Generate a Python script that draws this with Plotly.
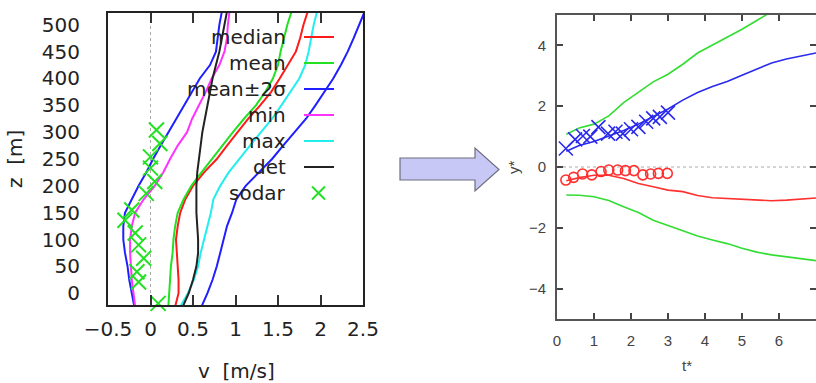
import plotly.graph_objects as go

# ---------------- left panel data: wind profiles ----------------
z_levels = [-25, 0, 25, 50, 75, 100, 125, 150, 175, 200, 225, 250, 275, 300,
            325, 350, 375, 400, 425, 450, 475, 500, 525]
v_median = [0.29, 0.33, 0.33, 0.32, 0.31, 0.30, 0.32, 0.35, 0.41, 0.50, 0.63, 0.78,
            0.90, 1.02, 1.15, 1.29, 1.42, 1.52, 1.61, 1.71, 1.76, 1.80, 1.85]
v_mean = [0.21, 0.22, 0.23, 0.24, 0.26, 0.27, 0.29, 0.32, 0.39, 0.48, 0.60, 0.72,
          0.85, 0.97, 1.10, 1.24, 1.35, 1.44, 1.50, 1.53, 1.57, 1.61, 1.66]
v_lo2s = [-0.19, -0.22, -0.25, -0.27, -0.30, -0.32, -0.32, -0.30, -0.22, -0.14, -0.05, 0.03,
          0.12, 0.21, 0.30, 0.39, 0.49, 0.58, 0.70, 0.77, 0.79, 0.81, 0.84]
v_hi2s = [0.60, 0.67, 0.73, 0.78, 0.82, 0.86, 0.90, 0.96, 1.01, 1.12, 1.28, 1.43,
          1.56, 1.69, 1.83, 1.94, 2.05, 2.15, 2.24, 2.32, 2.39, 2.45, 2.52]
v_min = [-0.18, -0.20, -0.22, -0.23, -0.24, -0.24, -0.22, -0.18, -0.08, 0.05, 0.15, 0.23,
         0.32, 0.43, 0.49, 0.57, 0.65, 0.72, 0.81, 0.87, 0.90, 0.91, 0.93]
v_max = [0.35, 0.44, 0.51, 0.56, 0.59, 0.63, 0.67, 0.71, 0.74, 0.82, 0.92, 1.04,
         1.17, 1.30, 1.43, 1.54, 1.65, 1.75, 1.82, 1.86, 1.89, 1.92, 1.96]
v_det = [0.38, 0.45, 0.50, 0.54, 0.56, 0.56, 0.55, 0.54, 0.54, 0.54, 0.55, 0.57,
         0.59, 0.61, 0.64, 0.67, 0.70, 0.73, 0.77, 0.81, 0.84, 0.87, 0.90]
sodar_z = [-19, 21, 40, 65, 90, 112, 136, 155, 186, 208, 233, 254, 279, 304]
sodar_v = [0.09, -0.14, -0.16, -0.08, -0.14, -0.18, -0.30, -0.22, -0.05, 0.05, 0.00, 0.00, 0.11, 0.07]

left_xticks = [-0.5, 0, 0.5, 1, 1.5, 2, 2.5]
left_xticklabels = ["\u22120.5", "0", "0.5", "1", "1.5", "2", "2.5"]
left_yticks = [0, 50, 100, 150, 200, 250, 300, 350, 400, 450, 500]

legend_names = ["median", "mean", "mean\u00b12\u03c3", "min", "max", "det", "sodar"]

# ---------------- right panel data ----------------
t_grid = [0.25, 0.6, 1.0, 1.4, 1.8, 2.2, 2.6, 3.0, 3.4, 3.8, 4.2, 4.6, 5.0, 5.4, 5.8, 6.2, 6.6, 7.0]
y_green_up = [1.08, 1.28, 1.41, 1.68, 2.12, 2.45, 2.80, 3.05, 3.38, 3.75, 4.01, 4.25, 4.53, 4.82, 5.12, 5.40, 5.65, 5.90]
y_blue = [0.52, 0.71, 0.84, 1.01, 1.20, 1.41, 1.67, 1.91, 2.20, 2.45, 2.65, 2.81, 3.02, 3.23, 3.42, 3.55, 3.64, 3.75]
y_red = [-0.45, -0.35, -0.27, -0.27, -0.38, -0.54, -0.65, -0.76, -0.81, -0.94, -1.01, -1.04, -1.07, -1.09, -1.11, -1.09, -1.05, -1.02]
y_green_lo = [-0.92, -0.93, -0.98, -1.10, -1.31, -1.50, -1.75, -1.92, -2.08, -2.27, -2.40, -2.52, -2.67, -2.80, -2.89, -2.96, -3.01, -3.08]

t_cross = [0.24, 0.49, 0.70, 0.90, 1.12, 1.38, 1.58, 1.78, 2.00, 2.20, 2.41, 2.60, 2.78, 3.00]
y_cross = [0.61, 0.91, 1.02, 1.00, 1.31, 1.10, 1.16, 1.10, 1.24, 1.32, 1.49, 1.60, 1.65, 1.79]
t_circ = [0.24, 0.45, 0.69, 0.94, 1.19, 1.40, 1.64, 1.85, 2.08, 2.32, 2.53, 2.74, 2.98]
y_circ = [-0.43, -0.34, -0.23, -0.26, -0.15, -0.10, -0.10, -0.12, -0.12, -0.26, -0.23, -0.21, -0.21]

right_xticks = [0, 1, 2, 3, 4, 5, 6, 7]
right_yticks = [-4, -2, 0, 2, 4]

# ---------------- styling ----------------
W, H = 816, 383
RED, GREEN, BLUE = "#ff1a1a", "#22e022", "#1f1fff"
MAG, CYAN, BLACK = "#ff33ff", "#22eeee", "#222222"
FONT_L = "DejaVu Sans"
FONT_R = "Liberation Sans"

def px(x):
    return x / W

def py(y):
    return 1 - y / H

fig = go.Figure()

left_series = [
    ("median", v_median, RED),
    ("mean", v_mean, GREEN),
    ("mean-2s", v_lo2s, BLUE),
    ("mean+2s", v_hi2s, BLUE),
    ("min", v_min, MAG),
    ("max", v_max, CYAN),
    ("det", v_det, BLACK),
]
for name, vals, col in left_series:
    fig.add_trace(go.Scatter(x=vals, y=z_levels, mode="lines", name=name,
                             line=dict(color=col, width=2), xaxis="x", yaxis="y",
                             showlegend=False, hoverinfo="skip"))
fig.add_trace(go.Scatter(x=sodar_v, y=sodar_z, mode="markers", name="sodar",
                         marker=dict(symbol="x-thin-open", size=15, color=GREEN,
                                     line=dict(color=GREEN, width=2)),
                         xaxis="x", yaxis="y", showlegend=False, cliponaxis=False))

# right panel
for vals, col in [(y_green_up, "#33dd33"), (y_green_lo, "#33dd33"), (y_blue, "#2a2aee"), (y_red, "#ff3030")]:
    fig.add_trace(go.Scatter(x=t_grid, y=vals, mode="lines", line=dict(color=col, width=1.6),
                             xaxis="x2", yaxis="y2", showlegend=False))
fig.add_trace(go.Scatter(x=t_cross, y=y_cross, mode="markers",
                         marker=dict(symbol="x-thin-open", size=14, color="#2a2aee",
                                     line=dict(color="#2a2aee", width=1.6)),
                         xaxis="x2", yaxis="y2", showlegend=False))
fig.add_trace(go.Scatter(x=t_circ, y=y_circ, mode="markers",
                         marker=dict(symbol="circle-open", size=10, color="#ff3030",
                                     line=dict(color="#ff3030", width=1.6)),
                         xaxis="x2", yaxis="y2", showlegend=False))

shapes = []
# zero lines (dotted)
shapes.append(dict(type="line", xref="x", yref="y domain", x0=0, x1=0, y0=0, y1=1,
                   line=dict(color="#aaaaaa", width=1, dash="dot"), layer="below"))
shapes.append(dict(type="line", xref="x2 domain", yref="y2", x0=0, x1=1, y0=0, y1=0,
                   line=dict(color="#aaaaaa", width=1, dash="dot"), layer="below"))

# legend of left panel (text right-aligned, sample on the right)
leg_cols = [RED, GREEN, BLUE, MAG, CYAN, BLACK, GREEN]
leg_y0, leg_dy = 37, 26
annotations = []
for i, (nm, col) in enumerate(zip(legend_names, leg_cols)):
    yy = leg_y0 + i * leg_dy
    annotations.append(dict(text=nm, x=px(288), y=py(yy), xref="paper", yref="paper",
                            xanchor="right", yanchor="middle", showarrow=False,
                            font=dict(family=FONT_L, size=20, color="#222222")))
    if nm != "sodar":
        shapes.append(dict(type="line", xref="paper", yref="paper", x0=px(304), x1=px(334),
                           y0=py(yy), y1=py(yy), line=dict(color=col, width=2)))
    else:
        shapes.append(dict(type="line", xref="paper", yref="paper", x0=px(312), x1=px(325),
                           y0=py(yy - 6.5), y1=py(yy + 6.5), line=dict(color=col, width=2)))
        shapes.append(dict(type="line", xref="paper", yref="paper", x0=px(312), x1=px(325),
                           y0=py(yy + 6.5), y1=py(yy - 6.5), line=dict(color=col, width=2)))

# arrow between panels
arrow_pts = [(400, 158), (475, 158), (475, 148), (499, 169.5), (475, 191), (475, 180), (400, 180)]
path = "M " + " L ".join(f"{px(x):.5f},{py(y):.5f}" for x, y in arrow_pts) + " Z"
shapes.append(dict(type="path", xref="paper", yref="paper", path=path,
                   fillcolor="#c8c8f6", line=dict(color="#6e6e7e", width=1.2)))

# axis titles
annotations += [
    dict(text="v  [m/s]", x=px(236), y=py(371), xref="paper", yref="paper", showarrow=False,
         xanchor="center", yanchor="middle", font=dict(family=FONT_L, size=20, color="#222222")),
    dict(text="z  [m]", x=px(15), y=py(159), xref="paper", yref="paper", showarrow=False,
         textangle=-90, xanchor="center", yanchor="middle",
         font=dict(family=FONT_L, size=20, color="#222222")),
    dict(text="t*", x=px(687), y=py(365), xref="paper", yref="paper", showarrow=False,
         xanchor="center", yanchor="middle", font=dict(family=FONT_R, size=15, color="#444444")),
    dict(text="y*", x=px(513), y=py(167), xref="paper", yref="paper", showarrow=False,
         textangle=-90, xanchor="center", yanchor="middle",
         font=dict(family=FONT_R, size=15, color="#444444")),
]

fig.update_layout(
    width=W, height=H,
    margin=dict(l=0, r=0, t=0, b=0, pad=0),
    paper_bgcolor="white", plot_bgcolor="white",
    showlegend=False,
    xaxis=dict(domain=[px(108), px(363)], range=[-0.5, 2.5], anchor="y", automargin=False,
               tickmode="array", tickvals=left_xticks, ticktext=left_xticklabels,
               ticks="inside", ticklen=10, tickwidth=1.5, tickcolor="#333333",
               showline=True, linecolor="#222222", linewidth=2, mirror="ticks",
               showgrid=False, zeroline=False, ticklabelstandoff=5,
               tickfont=dict(family=FONT_L, size=20, color="#222222")),
    yaxis=dict(domain=[py(305), py(13)], range=[-22, 522], anchor="x", automargin=False,
               tickmode="array", tickvals=left_yticks, ticks="",
               showline=True, linecolor="#222222", linewidth=2, mirror=True,
               showgrid=False, zeroline=False, ticklabelstandoff=22,
               tickfont=dict(family=FONT_L, size=20, color="#222222")),
    xaxis2=dict(domain=[px(557), 1.0], range=[0, 7], anchor="y2", automargin=False,
                tickmode="array", tickvals=right_xticks,
                ticks="inside", ticklen=6, tickwidth=1.5, tickcolor="#444444",
                showline=True, linecolor="#555555", linewidth=2, mirror="ticks",
                showgrid=False, zeroline=False, ticklabelstandoff=7,
                tickfont=dict(family=FONT_R, size=15, color="#444444")),
    yaxis2=dict(domain=[py(319), py(15)], range=[-5, 5], anchor="x2", automargin=False,
                tickmode="array", tickvals=right_yticks,
                ticks="inside", ticklen=6, tickwidth=1.5, tickcolor="#444444",
                showline=True, linecolor="#555555", linewidth=2, mirror="ticks",
                showgrid=False, zeroline=False, ticklabelstandoff=6,
                tickfont=dict(family=FONT_R, size=15, color="#444444")),
    shapes=shapes,
    annotations=annotations,
)

fig.write_html("out.html", config={"displayModeBar": False},
               post_script="document.body.style.margin='0';document.body.style.overflow='hidden';")
